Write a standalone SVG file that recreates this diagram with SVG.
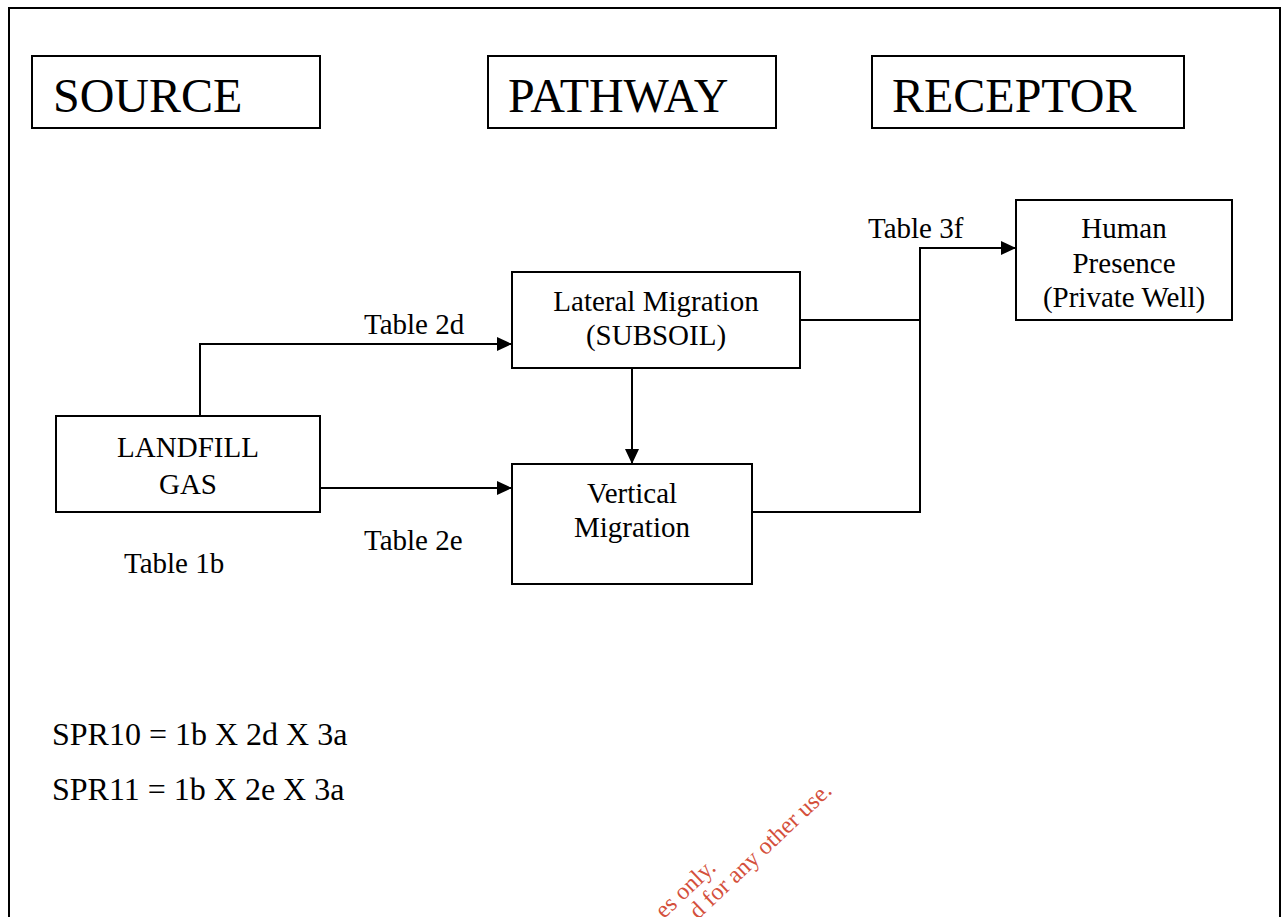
<svg xmlns="http://www.w3.org/2000/svg" width="1282" height="917" viewBox="0 0 1282 917">
  <style>
    .box { fill: #ffffff; stroke: #000000; stroke-width: 2; }
    .wire { fill: none; stroke: #000000; stroke-width: 2; }
    .t { font-family: "Liberation Serif", "Times New Roman", serif; fill: #000000; }
    .big { font-size: 48px; }
    .lbl { font-size: 29px; }
    .mid { text-anchor: middle; }
    .eq { font-size: 32px; }
    .wm { font-family: "Liberation Serif", "Times New Roman", serif; font-size: 24px; fill: #d4503c; text-anchor: end; }
  </style>
  <defs>
    <marker id="arrow" markerUnits="userSpaceOnUse" markerWidth="15" markerHeight="14" refX="15" refY="7" orient="auto">
      <path d="M0,0 L15,7 L0,14 z" fill="#000000"/>
    </marker>
  </defs>
  <rect x="0" y="0" width="1282" height="917" fill="#ffffff"/>
  <rect id="frame" x="9" y="8" width="1271" height="1000" fill="none" stroke="#000000" stroke-width="2"/>

  <g id="source-header">
    <rect class="box" x="32" y="56" width="288" height="72"/>
    <text class="t big" x="53" y="112">SOURCE</text>
  </g>
  <g id="pathway-header">
    <rect class="box" x="488" y="56" width="288" height="72"/>
    <text class="t big" x="508" y="112">PATHWAY</text>
  </g>
  <g id="receptor-header">
    <rect class="box" x="872" y="56" width="312" height="72"/>
    <text class="t big" x="892" y="112">RECEPTOR</text>
  </g>

  <g id="connectors">
    <path class="wire" d="M200,416 L200,344 L512,344" marker-end="url(#arrow)"/>
    <path class="wire" d="M320,488 L512,488" marker-end="url(#arrow)"/>
    <path class="wire" d="M632,368 L632,464" marker-end="url(#arrow)"/>
    <path class="wire" d="M800,320 L920,320"/>
    <path class="wire" d="M752,512 L920,512 L920,248 L1016,248" marker-end="url(#arrow)"/>
    <text class="t lbl" x="364" y="334">Table 2d</text>
    <text class="t lbl" x="364" y="550">Table 2e</text>
    <text class="t lbl" x="868" y="238">Table 3f</text>
  </g>

  <g id="landfill-gas">
    <rect class="box" x="56" y="416" width="264" height="96"/>
    <text class="t lbl mid" x="188" y="457">LANDFILL</text>
    <text class="t lbl mid" x="188" y="494">GAS</text>
    <text class="t lbl" x="124" y="573">Table 1b</text>
  </g>
  <g id="lateral-migration">
    <rect class="box" x="512" y="272" width="288" height="96"/>
    <text class="t lbl mid" x="656" y="311">Lateral Migration</text>
    <text class="t lbl mid" x="656" y="345">(SUBSOIL)</text>
  </g>
  <g id="vertical-migration">
    <rect class="box" x="512" y="464" width="240" height="120"/>
    <text class="t lbl mid" x="632" y="503">Vertical</text>
    <text class="t lbl mid" x="632" y="537">Migration</text>
  </g>
  <g id="human-presence">
    <rect class="box" x="1016" y="200" width="216" height="120"/>
    <text class="t lbl mid" x="1124" y="238">Human</text>
    <text class="t lbl mid" x="1124" y="273">Presence</text>
    <text class="t lbl mid" x="1124" y="307">(Private Well)</text>
  </g>

  <g id="equations">
    <text class="t eq" x="52" y="745">SPR10 = 1b X 2d X 3a</text>
    <text class="t eq" x="52" y="800">SPR11 = 1b X 2e X 3a</text>
  </g>

  <g id="watermark">
    <text class="wm" x="717" y="869" transform="rotate(-43.5 717 869)">es only.</text>
    <text class="wm" x="833" y="792" transform="rotate(-43.5 833 792)">d for any other use.</text>
  </g>
</svg>
